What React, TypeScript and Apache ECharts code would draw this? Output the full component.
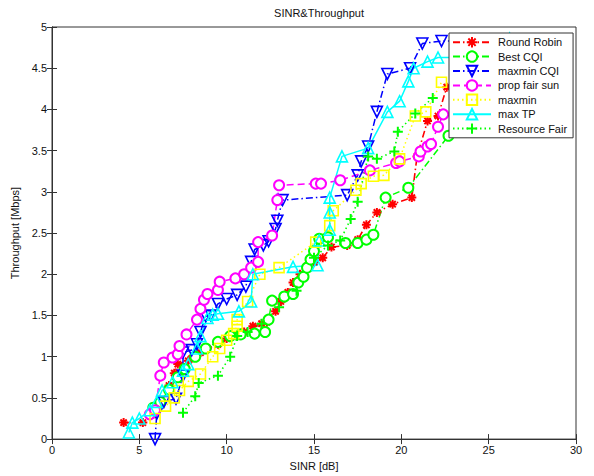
import React, { useEffect, useRef } from "react";
import * as echarts from "echarts";

const seriesNames = ["Round Robin", "Best CQI", "maxmin CQI", "prop fair sun", "maxmin", "max TP", "Resource Fair"];

const roundRobin = [[4.1,0.2],[5.2,0.2],[5.8,0.3],[6.3,0.45],[6.7,0.65],[7.0,0.8],[7.2,0.91],[7.8,0.95],[8.0,0.98],[8.5,1.05],[8.9,1.1],[9.5,1.15],[10.0,1.22],[10.6,1.25],[11.0,1.3],[11.5,1.37],[12.0,1.4],[12.3,1.42],[12.8,1.55],[13.1,1.67],[13.5,1.78],[13.8,1.9],[14.2,2.0],[14.6,2.1],[15.0,2.15],[15.5,2.2],[16.0,2.33],[16.9,2.35],[17.5,2.42],[18.0,2.6],[18.6,2.75],[19.5,2.85],[20.6,2.93],[20.9,3.43],[21.5,3.86],[22.1,3.92],[22.6,4.27]];
const bestCQI = [[5.8,0.38],[6.2,0.45],[6.7,0.6],[7.2,0.75],[7.6,0.85],[8.2,1.0],[8.8,1.1],[9.5,1.18],[10.2,1.25],[10.8,1.27],[11.6,1.28],[12.2,1.3],[12.4,1.45],[12.6,1.68],[13.3,1.73],[13.8,1.76],[14.1,1.9],[14.4,1.97],[14.6,2.08],[14.8,2.18],[15.0,2.28],[15.3,2.43],[15.8,2.45],[16.8,2.38],[17.5,2.38],[18.0,2.42],[18.4,2.48],[19.1,2.93],[20.4,3.05],[22.7,3.68]];
const maxminCQI = [[5.9,0.0],[6.0,0.31],[6.4,0.45],[7.1,0.49],[7.5,0.77],[7.5,1.05],[8.0,1.08],[8.3,1.15],[8.5,1.3],[8.8,1.49],[9.1,1.5],[9.5,1.64],[10.0,1.7],[10.6,1.75],[11.1,1.85],[11.4,2.15],[11.6,2.3],[12.1,2.35],[12.4,2.4],[12.8,2.55],[12.9,2.65],[13.2,2.9],[16.9,2.96],[17.5,3.2],[17.7,3.37],[18.1,3.55],[18.6,3.97],[19.2,4.43],[20.5,4.5],[21.2,4.8],[22.3,4.83],[24.5,4.83]];
const propFairSun = [[5.6,0.3],[5.9,0.35],[6.2,0.77],[6.4,0.93],[6.9,0.99],[7.2,1.03],[7.3,1.13],[7.7,1.27],[8.3,1.45],[8.5,1.58],[8.7,1.69],[8.9,1.76],[9.5,1.81],[9.6,1.91],[10.5,1.95],[11.0,2.0],[11.4,2.08],[11.8,2.15],[11.8,2.39],[12.6,2.47],[12.9,2.9],[13.0,3.08],[15.1,3.1],[15.4,3.1],[16.5,3.14],[18.2,3.26],[19.7,3.35],[19.9,3.37],[21.0,3.43],[21.1,3.49],[21.5,3.55],[21.7,3.58],[22.1,3.79],[22.4,3.94]];
const maxmin = [[5.9,0.25],[6.5,0.4],[7.0,0.5],[7.3,0.59],[7.8,0.7],[8.5,0.79],[9.2,1.0],[9.6,1.1],[10.0,1.2],[10.4,1.28],[10.6,1.37],[10.6,1.45],[11.2,1.67],[11.9,2.0],[13.0,2.08],[15.1,2.39],[15.9,2.59],[16.1,2.77],[17.4,3.02],[17.7,3.1],[18.4,3.19],[19.0,3.2],[19.9,3.4],[20.8,3.92],[21.4,3.97],[22.3,4.33]];
const maxTP = [[4.4,0.08],[4.6,0.2],[5.0,0.25],[5.6,0.35],[6.0,0.45],[6.3,0.59],[6.9,0.69],[7.5,0.83],[7.8,0.91],[8.3,1.1],[8.5,1.25],[8.9,1.47],[9.2,1.51],[9.5,1.52],[10.7,1.55],[11.4,1.67],[11.5,2.0],[13.8,2.09],[15.2,2.11],[15.3,2.41],[15.9,2.54],[15.9,2.75],[15.9,2.93],[16.6,3.43],[18.1,3.53],[19.2,3.97],[19.9,4.1],[20.4,4.34],[20.7,4.5],[21.5,4.58],[22.1,4.63],[25.5,4.63],[26.2,4.86]];
const resourceFair = [[7.5,0.32],[8.2,0.52],[8.4,0.68],[9.5,0.77],[10.2,1.0],[10.6,1.25],[11.2,1.3],[12.0,1.4],[13.0,1.6],[14.0,1.8],[15.0,2.2],[15.8,2.35],[16.5,2.41],[17.1,2.67],[17.5,2.88],[18.1,3.43],[18.6,3.4],[19.6,3.49],[19.8,3.73],[20.8,3.95],[21.8,4.14]];

const xTicks = [0, 5, 10, 15, 20, 25, 30];
const yTicks = [0, 0.5, 1, 1.5, 2, 2.5, 3, 3.5, 4, 4.5, 5];

const STAR = "path://M5,0L5,10M0,5L10,5M1.5,1.5L8.5,8.5M8.5,1.5L1.5,8.5";
const PLUS = "path://M5,0L5,10M0,5L10,5";
const TRI_DOWN = "path://M0,0L10,0L5,9Z";
const TRI_UP = "path://M5,0L10,9L0,9Z";
const SQUARE = "path://M0,0L10,0L10,10L0,10Z";

export default function App() {
  const ref = useRef<HTMLDivElement>(null);
  useEffect(() => {
    if (!ref.current) return;
    const chart = echarts.init(ref.current, undefined, { renderer: "svg" });
    const font = "Liberation Sans, Arial, sans-serif";
    const mk = (name: string, data: number[][], color: string, symbol: string, size: number, lineType: any, mode: string, lw = 1.5) => ({
      name,
      type: "line",
      data,
      symbol,
      symbolSize: size,
      showSymbol: true,
      showAllSymbol: true,
      lineStyle: { color, width: lw, type: lineType },
      itemStyle:
        mode === "hollow"
          ? { color: "rgba(0,0,0,0)", borderColor: color, borderWidth: 1.6 }
          : mode === "empty"
          ? { color, borderColor: color, borderWidth: 1.6 }
          : { color, borderColor: color, borderWidth: 2 },
      emphasis: { disabled: true },
      z: 2,
    });
    const dashDot = [7, 3, 1.5, 3];
    const dotted = [1.5, 3];
    const dashed = [7, 4];
    const series = [
      mk(seriesNames[0], roundRobin, "#ff0000", STAR, 9, dashDot, "stroke", 1.6),
      mk(seriesNames[1], bestCQI, "#00ff00", "emptyCircle", 10, dashDot, "empty"),
      mk(seriesNames[2], maxminCQI, "#0000ff", TRI_DOWN, 11, dashDot, "hollow"),
      mk(seriesNames[3], propFairSun, "#ff00ff", "emptyCircle", 10, dashed, "empty"),
      mk(seriesNames[4], maxmin, "#ffff00", SQUARE, 10, dotted, "hollow"),
      mk(seriesNames[5], maxTP, "#00ffff", TRI_UP, 11, "solid", "hollow"),
      mk(seriesNames[6], resourceFair, "#00ff00", PLUS, 10, dotted, "stroke", 1.6),
    ];
    const axisCommon = {
      type: "value",
      axisLine: { show: true, lineStyle: { color: "#333", width: 1 } },
      axisTick: { show: true, inside: true, length: 5, lineStyle: { color: "#333" } },
      splitLine: { show: false },
    };
    chart.setOption({
      animation: false,
      backgroundColor: "#fff",
      title: {
        text: "SINR&Throughput",
        left: 314,
        textAlign: "center",
        top: 2,
        textStyle: { fontFamily: font, fontSize: 11, fontWeight: "normal", color: "#111" },
      },
      legend: {
        data: seriesNames,
        orient: "vertical",
        left: 449,
        top: 33,
        width: 123,
        padding: [3, 6, 3, 3],
        itemGap: 2,
        itemWidth: 38,
        itemHeight: 13,
        backgroundColor: "#fff",
        borderColor: "#333",
        borderWidth: 1,
        borderRadius: 0,
        textStyle: { fontFamily: font, fontSize: 11, color: "#111", padding: [0, 0, 0, 2] },
        z: 10,
      },
      grid: { left: 52, right: 18, top: 27, bottom: 32, show: true, borderColor: "#333", borderWidth: 1, backgroundColor: "#fff" },
      xAxis: [
        {
          ...axisCommon,
          min: xTicks[0],
          max: xTicks[xTicks.length - 1],
          interval: 5,
          name: "SINR [dB]",
          nameLocation: "middle",
          nameGap: 17,
          nameTextStyle: { fontFamily: font, fontSize: 11, color: "#111" },
          axisLabel: { fontFamily: font, fontSize: 11, color: "#111", margin: 5 },
        },
        {
          ...axisCommon,
          position: "top",
          min: xTicks[0],
          max: xTicks[xTicks.length - 1],
          interval: 5,
          axisLabel: { show: false },
        },
      ],
      yAxis: [
        {
          ...axisCommon,
          min: yTicks[0],
          max: yTicks[yTicks.length - 1],
          interval: 0.5,
          name: "Throughput [Mbps]",
          nameLocation: "middle",
          nameGap: 27,
          nameTextStyle: { fontFamily: font, fontSize: 11, color: "#111" },
          axisLabel: { fontFamily: font, fontSize: 11, color: "#111", margin: 5 },
        },
        {
          ...axisCommon,
          position: "right",
          min: yTicks[0],
          max: yTicks[yTicks.length - 1],
          interval: 0.5,
          axisLabel: { show: false },
        },
      ],
      series,
    });
    return () => chart.dispose();
  }, []);
  return <div ref={ref} style={{ width: 594, height: 476, position: "absolute", left: 0, top: 0 }} />;
}
